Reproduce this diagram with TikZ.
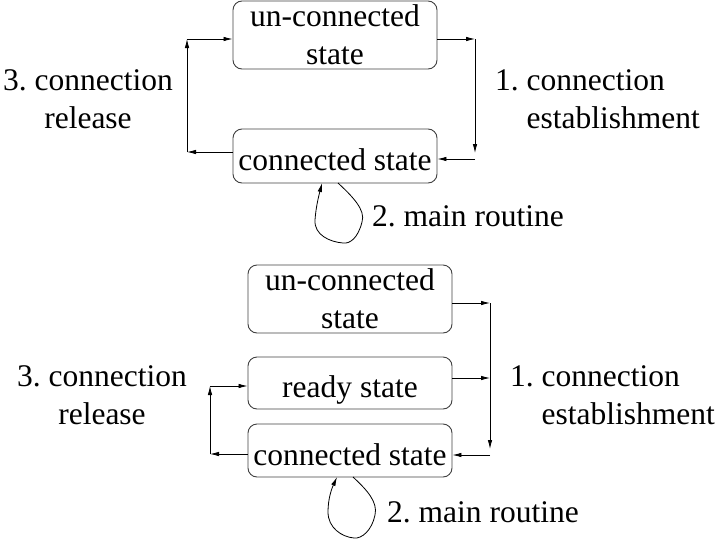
\documentclass[tikz,border=0pt]{standalone}
\usepackage{fontspec}
\setmainfont{Liberation Serif}
\usetikzlibrary{arrows.meta}
\frenchspacing
\begin{document}
\begin{tikzpicture}[x=1pt,y=1pt,
  every node/.style={font=\fontsize{31.5}{38}\selectfont\frenchspacing, inner sep=0pt},
  statebox/.style={draw=black!75, line width=0.9pt, rounded corners=9pt, minimum width=204pt, align=center},
  oneline/.style={text height=29pt, text depth=0pt},
  lbl/.style={align=center},
  arr/.style={line width=0.8pt, -{Latex[length=9pt,width=4.5pt]}}]
\useasboundingbox (0,0) rectangle (715,-541);
% ---------- top diagram ----------
\node[statebox, minimum height=68pt] (b1) at (335,-35) {un-connected\\state};
\node[statebox, oneline, minimum height=54pt] (b2) at (335,-156) {connected state};
\coordinate (tr1) at (475,-39);
\coordinate (tr2) at (475,-159);
\coordinate (tr2a) at (475,-153);
\coordinate (tl1) at (187,-39);
\coordinate (tl2) at (187,-152);
\draw[arr] (tr1 -| b1.east) -- (tr1);
\draw[arr] (tr1) -- (tr2a);
\draw[arr] (tr2) -- (tr2 -| b2.east);
\draw[arr] (tl2 -| b2.west) -- (tl2);
\draw[arr] (tl2) -- (tl1);
\draw[arr] (tl1) -- (tl1 -| b1.west);
\coordinate (ls1) at (338,-183);
\coordinate (le1) at (322,-183);
\draw[arr] (ls1) .. controls (352,-196) and (366,-210) .. (362,-222)
  .. controls (358,-238) and (350,-244) .. (343,-243)
  .. controls (330,-242) and (314,-235) .. (315,-220)
  .. controls (316,-206) and (319,-195) .. (le1);
\node[lbl] (t3) at (88,-99) {3. connection\\release};
\node[align=left, anchor=west] (t1) at (495,-99) {1. connection\\\hspace*{1em}establishment};
\node[anchor=west] (t2) at (372,-216) {2. main routine};
% ---------- bottom diagram ----------
\node[statebox, minimum height=68pt] (u) at (350,-299) {un-connected\\state};
\node[statebox, oneline, minimum height=52pt] (r) at (350,-383) {ready state};
\node[statebox, oneline, minimum height=53pt] (c) at (350,-450.5) {connected state};
\coordinate (br1) at (490,-303);
\coordinate (br2) at (490,-378);
\coordinate (br3) at (490,-455);
\coordinate (br3a) at (490,-449);
\coordinate (bl1) at (210,-386);
\coordinate (bl2) at (210,-454);
\draw[arr] (br1 -| u.east) -- (br1);
\draw[arr] (br2 -| r.east) -- (br2);
\draw[arr] (br1) -- (br3a);
\draw[arr] (br3) -- (br3 -| c.east);
\draw[arr] (bl2 -| c.west) -- (bl2);
\draw[arr] (bl2) -- (bl1);
\draw[arr] (bl1) -- (bl1 -| r.west);
\coordinate (ls2) at (353,-477);
\coordinate (le2) at (337,-477);
\draw[arr] (ls2) .. controls (367,-490) and (378,-502) .. (375,-515)
  .. controls (372,-530) and (362,-539) .. (354,-538)
  .. controls (342,-537) and (328,-528) .. (328,-512)
  .. controls (328,-498) and (332,-488) .. (le2);
\node[lbl] (u3) at (102,-395) {3. connection\\release};
\node[align=left, anchor=west] (u1) at (510,-395) {1. connection\\\hspace*{1em}establishment};
\node[anchor=west] (u2) at (387,-512) {2. main routine};
\end{tikzpicture}
\end{document}
